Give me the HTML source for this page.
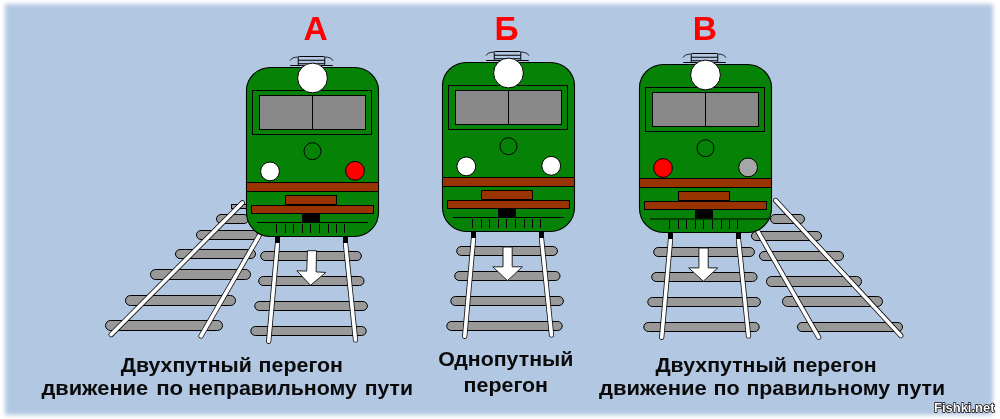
<!DOCTYPE html>
<html><head><meta charset="utf-8">
<style>
html,body{margin:0;padding:0;background:#fff;width:1000px;height:419px;overflow:hidden}
svg{display:block;position:absolute;left:0;top:0;will-change:transform}
#bg{position:absolute;left:4.5px;top:3.5px;width:988.5px;height:411.5px;background:#b2c7e2;filter:blur(2px)}
body{position:relative}
text{font-family:"Liberation Sans",sans-serif;font-weight:bold}
</style></head>
<body>
<div id="bg"></div>
<svg width="1000" height="419" viewBox="0 0 1000 419">



<!-- left diagonal track -->
<g fill="#999" stroke="#000">
  <rect x="231.5" y="204.5" width="16" height="4"/>
  <rect x="216.5" y="214.5" width="32" height="9" rx="4.5"/>
  <rect x="196.5" y="230.5" width="61" height="9" rx="4.5"/>
  <rect x="175.5" y="249.5" width="80" height="9" rx="4.5"/>
  <rect x="150.5" y="269.5" width="100" height="10" rx="5"/>
  <rect x="125.5" y="295.5" width="110" height="10" rx="5"/>
  <rect x="105.5" y="320.5" width="117" height="10" rx="5"/>
</g>
<g stroke-linecap="round" fill="none">
  <path d="M242.4,202.8L111.2,334.6M259,236L201,336" stroke="#111" stroke-width="5.2"/>
  <path d="M242.4,202.8L111.2,334.6M259,236L201,336" stroke="#fff" stroke-width="3.6"/>
</g>

<!-- right diagonal track -->
<g fill="#999" stroke="#000">
  <rect x="770.5" y="214.5" width="34" height="9" rx="4.5"/>
  <rect x="751.5" y="231.5" width="70" height="9" rx="4.5"/>
  <rect x="759.5" y="251.5" width="84" height="9" rx="4.5"/>
  <rect x="766.5" y="276.5" width="95" height="10" rx="5"/>
  <rect x="782.5" y="296.5" width="100" height="10" rx="5"/>
  <rect x="797.5" y="322.5" width="105" height="9" rx="4.5"/>
</g>
<g stroke-linecap="round" fill="none">
  <path d="M775.6,200.4L900.8,335.6M758,231.7L818.7,337.3" stroke="#111" stroke-width="5.2"/>
  <path d="M775.6,200.4L900.8,335.6M758,231.7L818.7,337.3" stroke="#fff" stroke-width="3.6"/>
</g>

<!-- A -->
<g transform="translate(246.5,67.5)">
  <g fill="#999" stroke="#000">
    <rect x="14.2" y="184" width="100.7" height="9" rx="4.5"/>
    <rect x="12.2" y="209" width="105.3" height="9" rx="4.5"/>
    <rect x="8.3" y="234" width="112.6" height="9" rx="4.5"/>
    <rect x="4.3" y="259" width="115.4" height="9" rx="4.5"/>
  </g>
  <g stroke-linecap="round" fill="none">
    <path d="M31,176L22.2,273.8M99,176L109,272.5" stroke="#111" stroke-width="5.2"/>
    <path d="M31,176L22.2,273.8M99,176L109,272.5" stroke="#fff" stroke-width="3.6"/>
  </g>
</g>
<g transform="translate(246.5,67.5)">
  <g fill="none" stroke="#000">
    <path d="M43.5,-6.8 Q45,-10.3 51.75,-10.5" stroke-width="0.8"/>
    <path d="M86.5,-6.8 Q85,-10.3 78.25,-10.5" stroke-width="0.8"/>
    <rect x="51.75" y="-11" width="26.5" height="9" rx="1" stroke-width="1"/>
    <path d="M51.75,-7.25H78.25M51.75,-3.75H78.25" stroke-width="1"/>
    <path d="M43.75,-2H86.25" stroke-width="1"/>
  </g>
</g>
<path d="M270.5,67.5H354.5A24,23 0 0 1 378.5,90.5V212.5A24,24 0 0 1 354.5,236.5H270.5A24,24 0 0 1 246.5,212.5V90.5A24,23 0 0 1 270.5,67.5Z" fill="#068206" stroke="#000" stroke-width="1.1"/>
<g transform="translate(246.5,67.5)">
  <rect x="6" y="23" width="119" height="44" fill="none" stroke="#000"/>
  <rect x="13" y="28" width="106" height="34" fill="#888" stroke="#000"/>
  <path d="M66,28V62" stroke="#000"/>
  <circle cx="66" cy="10.5" r="14.9" fill="#fff" stroke="#000"/>
  <circle cx="66" cy="83.7" r="8.5" fill="none" stroke="#000"/>
</g>
<g transform="translate(246.5,67.5)">
  <rect x="0" y="115" width="132" height="9" fill="#993300" stroke="#000"/>
  <rect x="39" y="128" width="51" height="9" fill="#993300" stroke="#000"/>
  <rect x="5" y="138" width="122" height="8" fill="#993300" stroke="#000"/>
  <rect x="55.5" y="146" width="18" height="9" fill="#000"/>
  <path d="M30,156.5V165.5M39,156.5V165.5M47,156.5V165.5M56,156.5V165.5M64,156.5V165.5M73,156.5V165.5M82,156.5V165.5M90,156.5V165.5M98,156.5V165.5" stroke="#000"/>
  <rect x="28.5" y="169.5" width="5" height="6" fill="#000"/>
  <rect x="96.5" y="169.5" width="5" height="6" fill="#000"/>
</g>
<path d="M257,222.5H368" stroke="#000"/>
<polygon points="307.5,250.7 316.5,250.7 316.1,271.9 325.9,272.4 310.5,285.3 296.9,270.8 306.7,271.1" fill="#fff" stroke="#222"/>
<circle cx="270" cy="171.4" r="9.4" fill="#fff" stroke="#000"/>
<circle cx="355" cy="170.8" r="9.4" fill="#f00" stroke="#000"/>

<!-- Б -->
<g transform="translate(442.5,62.5)">
  <g fill="#999" stroke="#000">
    <rect x="14.2" y="184" width="100.7" height="9" rx="4.5"/>
    <rect x="12.2" y="209" width="105.3" height="9" rx="4.5"/>
    <rect x="8.3" y="234" width="112.6" height="9" rx="4.5"/>
    <rect x="4.3" y="259" width="115.4" height="9" rx="4.5"/>
  </g>
  <g stroke-linecap="round" fill="none">
    <path d="M31,176L22.2,273.8M99,176L109,272.5" stroke="#111" stroke-width="5.2"/>
    <path d="M31,176L22.2,273.8M99,176L109,272.5" stroke="#fff" stroke-width="3.6"/>
  </g>
</g>
<g transform="translate(442.5,62.5)">
  <g fill="none" stroke="#000">
    <path d="M43.5,-6.8 Q45,-10.3 51.75,-10.5" stroke-width="0.8"/>
    <path d="M86.5,-6.8 Q85,-10.3 78.25,-10.5" stroke-width="0.8"/>
    <rect x="51.75" y="-11" width="26.5" height="9" rx="1" stroke-width="1"/>
    <path d="M51.75,-7.25H78.25M51.75,-3.75H78.25" stroke-width="1"/>
    <path d="M43.75,-2H86.25" stroke-width="1"/>
  </g>
</g>
<path d="M466.5,62.5H550.5A24,23 0 0 1 574.5,85.5V207.5A24,24 0 0 1 550.5,231.5H466.5A24,24 0 0 1 442.5,207.5V85.5A24,23 0 0 1 466.5,62.5Z" fill="#068206" stroke="#000" stroke-width="1.1"/>
<g transform="translate(442.5,62.5)">
  <rect x="6" y="23" width="119" height="44" fill="none" stroke="#000"/>
  <rect x="13" y="28" width="106" height="34" fill="#888" stroke="#000"/>
  <path d="M66,28V62" stroke="#000"/>
  <circle cx="66" cy="10.5" r="14.9" fill="#fff" stroke="#000"/>
  <circle cx="66" cy="83.7" r="8.5" fill="none" stroke="#000"/>
</g>
<g transform="translate(442.5,62.5)">
  <rect x="0" y="115" width="132" height="9" fill="#993300" stroke="#000"/>
  <rect x="39" y="128" width="51" height="9" fill="#993300" stroke="#000"/>
  <rect x="5" y="138" width="122" height="8" fill="#993300" stroke="#000"/>
  <rect x="55.5" y="146" width="18" height="9" fill="#000"/>
  <path d="M30,156.5V165.5M39,156.5V165.5M47,156.5V165.5M56,156.5V165.5M64,156.5V165.5M73,156.5V165.5M82,156.5V165.5M90,156.5V165.5M98,156.5V165.5" stroke="#000"/>
  <rect x="28.5" y="169.5" width="5" height="6" fill="#000"/>
  <rect x="96.5" y="169.5" width="5" height="6" fill="#000"/>
</g>
<path d="M453,217.5H564" stroke="#000"/>
<polygon points="503,247 512.2,247 512.2,266.8 522.4,266.8 507.5,280.7 492.8,266.8 503,266.8" fill="#fff" stroke="#222"/>
<circle cx="466.3" cy="166.4" r="9.4" fill="#fff" stroke="#000"/>
<circle cx="551.2" cy="165.8" r="9.4" fill="#fff" stroke="#000"/>

<!-- В -->
<g transform="translate(639.5,63.5)">
  <g fill="#999" stroke="#000">
    <rect x="14.2" y="184" width="100.7" height="9" rx="4.5"/>
    <rect x="12.2" y="209" width="105.3" height="9" rx="4.5"/>
    <rect x="8.3" y="234" width="112.6" height="9" rx="4.5"/>
    <rect x="4.3" y="259" width="115.4" height="9" rx="4.5"/>
  </g>
  <g stroke-linecap="round" fill="none">
    <path d="M31,176L22.2,273.8M99,176L109,272.5" stroke="#111" stroke-width="5.2"/>
    <path d="M31,176L22.2,273.8M99,176L109,272.5" stroke="#fff" stroke-width="3.6"/>
  </g>
</g>
<g transform="translate(639.5,64.5)">
  <g fill="none" stroke="#000">
    <path d="M43.5,-6.8 Q45,-10.3 51.75,-10.5" stroke-width="0.8"/>
    <path d="M86.5,-6.8 Q85,-10.3 78.25,-10.5" stroke-width="0.8"/>
    <rect x="51.75" y="-11" width="26.5" height="9" rx="1" stroke-width="1"/>
    <path d="M51.75,-7.25H78.25M51.75,-3.75H78.25" stroke-width="1"/>
    <path d="M43.75,-2H86.25" stroke-width="1"/>
  </g>
</g>
<path d="M663.5,64.5H747.5A24,23 0 0 1 771.5,87.5V208.5A24,24 0 0 1 747.5,232.5H663.5A24,24 0 0 1 639.5,208.5V87.5A24,23 0 0 1 663.5,64.5Z" fill="#068206" stroke="#000" stroke-width="1.1"/>
<g transform="translate(639.5,64.5)">
  <rect x="6" y="23" width="119" height="44" fill="none" stroke="#000"/>
  <rect x="13" y="28" width="106" height="34" fill="#888" stroke="#000"/>
  <path d="M66,28V62" stroke="#000"/>
  <circle cx="66" cy="10.5" r="14.9" fill="#fff" stroke="#000"/>
  <circle cx="66" cy="83.7" r="8.5" fill="none" stroke="#000"/>
</g>
<g transform="translate(639.5,63.5)">
  <rect x="0" y="115" width="132" height="9" fill="#993300" stroke="#000"/>
  <rect x="39" y="128" width="51" height="9" fill="#993300" stroke="#000"/>
  <rect x="5" y="138" width="122" height="8" fill="#993300" stroke="#000"/>
  <rect x="55.5" y="146" width="18" height="9" fill="#000"/>
  <path d="M30,156.5V165.5M39,156.5V165.5M47,156.5V165.5M56,156.5V165.5M64,156.5V165.5M73,156.5V165.5M82,156.5V165.5M90,156.5V165.5M98,156.5V165.5" stroke="#000"/>
  <rect x="28.5" y="169.5" width="5" height="6" fill="#000"/>
  <rect x="96.5" y="169.5" width="5" height="6" fill="#000"/>
</g>
<path d="M650,219H769" stroke="#000"/>
<polygon points="698.9,248 708.2,248 708.2,267.9 717.8,267.9 703.3,281.2 688.7,267.9 698.9,267.9" fill="#fff" stroke="#222"/>
<circle cx="663" cy="168" r="9.4" fill="#f00" stroke="#000"/>
<circle cx="748.1" cy="167.4" r="9.4" fill="#a6a6a6" stroke="#000"/>

<!-- letters -->
<g fill="#f00" font-size="33.5">
  <text x="303.5" y="39.8">А</text>
  <text x="494.5" y="39.8">Б</text>
  <text x="692.8" y="39.8">В</text>
</g>

<!-- captions -->
<g fill="#0a0a0a" font-size="20">
  <text x="120.80" y="371.5" textLength="131.00" lengthAdjust="spacingAndGlyphs">Двухпутный</text>
  <text x="258.60" y="371.5" textLength="84.40" lengthAdjust="spacingAndGlyphs">перегон</text>
  <text x="41.40" y="394.5" textLength="106.80" lengthAdjust="spacingAndGlyphs">движение</text>
  <text x="156.20" y="394.5" textLength="27.00" lengthAdjust="spacingAndGlyphs">по</text>
  <text x="188.20" y="394.5" textLength="168.80" lengthAdjust="spacingAndGlyphs">неправильному</text>
  <text x="364.80" y="394.5" textLength="48.20" lengthAdjust="spacingAndGlyphs">пути</text>
  <text x="438.20" y="366" textLength="135.20" lengthAdjust="spacingAndGlyphs">Однопутный</text>
  <text x="463.60" y="392" textLength="84.40" lengthAdjust="spacingAndGlyphs">перегон</text>
  <text x="655.40" y="371.5" textLength="131.40" lengthAdjust="spacingAndGlyphs">Двухпутный</text>
  <text x="792.60" y="371.5" textLength="84.00" lengthAdjust="spacingAndGlyphs">перегон</text>
  <text x="599.00" y="394.5" textLength="107.80" lengthAdjust="spacingAndGlyphs">движение</text>
  <text x="713.60" y="394.5" textLength="26.20" lengthAdjust="spacingAndGlyphs">по</text>
  <text x="746.40" y="394.5" textLength="143.60" lengthAdjust="spacingAndGlyphs">правильному</text>
  <text x="896.60" y="394.5" textLength="48.60" lengthAdjust="spacingAndGlyphs">пути</text>
</g>

<!-- watermark -->
<text x="934" y="411.8" font-size="13.5" fill="#fff" stroke="#000" stroke-width="1.5" paint-order="stroke" stroke-linejoin="round" textLength="60.5" lengthAdjust="spacingAndGlyphs">Fishki.net</text>
</svg>
</body></html>
